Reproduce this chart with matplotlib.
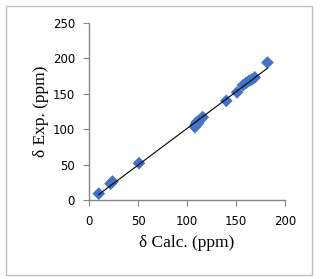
import numpy as np
import matplotlib
matplotlib.use('Agg')
import matplotlib.pyplot as plt
from matplotlib.patches import Rectangle

calc = [10, 22, 24, 51, 108, 109, 110, 111, 112, 114, 116, 140, 151, 157, 160, 163, 166, 169, 182]
exp = [9, 23, 26, 52, 103, 107, 110, 108, 112, 114, 117, 140, 152, 162, 165, 168, 170, 173, 194]
x_ticks = [0, 50, 100, 150, 200]
y_ticks = [0, 50, 100, 150, 200, 250]

BLUE = '#4472C4'
GRAY = '#868686'

fig = plt.figure(figsize=(3.2, 2.79), dpi=100)
fig.patches.append(Rectangle((0.02, 0.015), 0.955, 0.965, transform=fig.transFigure,
                             fill=False, edgecolor='#BFBFBF', linewidth=1))
ax = fig.add_axes([0.278, 0.283, 0.613, 0.635])

# linear trendline
k, b = np.polyfit(calc, exp, 1)
xs = np.array([min(calc), max(calc)])
ax.plot(xs, k * xs + b, color='black', linewidth=0.8, zorder=3)
ax.scatter(calc, exp, marker='D', s=42, color=BLUE, edgecolors='none', zorder=2)

ax.set_xlim(0, 200)
ax.set_ylim(0, 250)
ax.set_xticks(x_ticks)
ax.set_yticks(y_ticks)
for side in ['top', 'right']:
    ax.spines[side].set_visible(False)
for side in ['left', 'bottom']:
    ax.spines[side].set_color(GRAY)
    ax.spines[side].set_linewidth(1)
ax.tick_params(direction='out', length=4, color=GRAY, labelsize=8.5, pad=7)
ax.tick_params(axis='y', pad=6)
ax.set_xlabel('δ Calc. (ppm)', family='Liberation Serif', fontsize=12.5, labelpad=5)
ax.set_ylabel('δ Exp. (ppm)', family='Liberation Serif', fontsize=12.5, labelpad=3)

fig.savefig('out.png', dpi=100)
